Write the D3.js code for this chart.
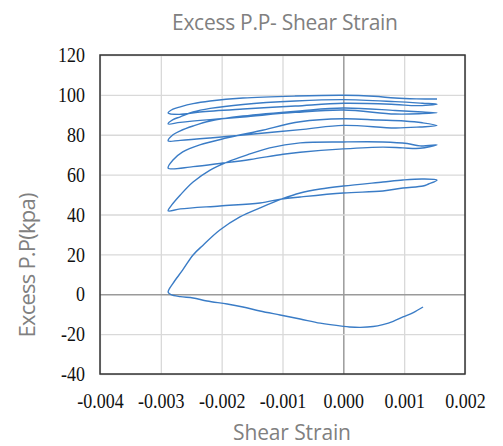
<!DOCTYPE html>
<html>
<head>
<meta charset="utf-8">
<script src="https://cdn.jsdelivr.net/npm/d3@7"></script>
<style>
  body { margin: 0; background: #fff; }
  .tick-label { font-family: "Liberation Serif", "Times New Roman", serif; font-size: 18px; fill: #111; }
  .axis-title { font-family: "Open Sans", "Noto Sans", sans-serif; fill: #808080; }
</style>
</head>
<body>
<svg id="chart" width="503" height="446"></svg>
<script>
// axis ticks
const strainTicks = [-0.004, -0.003, -0.002, -0.001, 0, 0.001, 0.002];
const ppTicks = [-40, -20, 0, 20, 40, 60, 80, 100, 120];

// [shear strain, excess pore pressure (kPa)], in test order
const branch0 = [[0.00131,-6.4],[0.00115,-9.2],[0.00098,-11.4],[0.00082,-13.6],[0.00065,-15.2],[0.00049,-16.2],[0.00028,-16.6],[0.0001,-16.4],[0.0,-16.1],[-0.00038,-14.5],[-0.00071,-12.4],[-0.00104,-10.4],[-0.00137,-8.4],[-0.00165,-6.4],[-0.00191,-4.9],[-0.00224,-3.4],[-0.00247,-1.9],[-0.00268,-1.2],[-0.00283,-0.2],[-0.00288,1.1]];
const branch1 = [[-0.00288,1.1],[-0.0028,5.5],[-0.00264,12.2],[-0.00247,19.7],[-0.00231,24.5],[-0.00203,32.2],[-0.0017,38.8],[-0.00137,43.3],[-0.00101,47.8],[-0.00071,50.8],[-0.00038,52.8],[0.0,54.3],[0.00065,56.3],[0.00098,57.3],[0.0013,57.8],[0.00154,57.3]];
const branch2 = [[0.00154,57.3],[0.0014,55.3],[0.00131,54.3],[0.00098,53.3],[0.00065,51.8],[0.0,50.8],[-0.00071,48.8],[-0.00101,47.8],[-0.00137,45.8],[-0.00203,44.3],[-0.00268,42.8],[-0.00288,41.8]];
const branch3 = [[-0.00288,41.8],[-0.00282,44.8],[-0.00268,49.8],[-0.00247,56.3],[-0.00219,62.3],[-0.00191,66.3],[-0.00158,69.9],[-0.00121,73.4],[-0.00071,75.9],[0.0,76.4],[0.00065,76.4],[0.00105,75.6],[0.00126,74.4],[0.00154,74.9]];
const branch4 = [[0.00154,74.9],[0.00126,73.2],[0.00098,73.4],[0.00065,73.8],[0.0,72.9],[-0.00071,71.2],[-0.00099,70.2],[-0.00153,67.6],[-0.00198,65.8],[-0.00247,64.0],[-0.00288,63.3]];
const branch5 = [[-0.00288,63.3],[-0.0028,67.3],[-0.00264,71.4],[-0.00236,74.9],[-0.00191,78.4],[-0.00137,82.0],[-0.00071,86.5],[0.0,88.0],[0.00057,87.4],[0.001,86.9],[0.0013,86.0],[0.00154,84.6]];
const branch6 = [[0.00154,84.6],[0.00126,83.9],[0.00085,83.4],[0.0,84.7],[-0.00066,82.7],[-0.00165,79.9],[-0.00219,78.4],[-0.00268,77.2],[-0.00288,76.9]];
const branch7 = [[-0.00288,76.9],[-0.0028,80.0],[-0.00268,82.0],[-0.00247,84.4],[-0.00219,86.9],[-0.00165,89.4],[-0.00071,92.0],[0.0,93.4],[0.00085,92.2],[0.0013,91.4],[0.00154,91.0]];
const branch8 = [[0.00154,91.0],[0.0013,90.6],[0.00085,90.4],[0.0,92.4],[-0.00079,91.2],[-0.00165,88.9],[-0.00219,87.6],[-0.00268,86.2],[-0.00288,85.4]];
const branch9 = [[-0.00288,85.4],[-0.0028,87.6],[-0.00268,89.0],[-0.00247,91.4],[-0.00219,93.2],[-0.00165,95.2],[-0.00079,96.9],[0.0,97.6],[0.00085,96.6],[0.0013,95.8],[0.00154,95.3]];
const branch10 = [[0.00154,95.3],[0.0012,94.6],[0.00085,95.2],[0.0,95.8],[-0.00079,94.4],[-0.00165,92.9],[-0.00236,91.4],[-0.0027,90.2],[-0.00288,90.9]];
const branch11 = [[-0.00288,90.9],[-0.0028,92.8],[-0.00268,94.0],[-0.00247,95.6],[-0.00219,96.9],[-0.00165,98.4],[-0.00079,99.4],[0.0,99.8],[0.0005,99.3],[0.00085,98.4],[0.0012,98.0],[0.00154,97.9]];

const branches = [branch0, branch1, branch2, branch3, branch4, branch5,
                  branch6, branch7, branch8, branch9, branch10, branch11];
// one continuous path, dropping the repeated joint points
const path = branches.flatMap((b, i) => i === 0 ? b : b.slice(1));

const plotLeft = 100, plotRight = 465, plotTop = 55, plotBottom = 374;

const x = d3.scaleLinear().domain([-0.004, 0.002]).range([plotLeft, plotRight]);
const y = d3.scaleLinear().domain([-40, 120]).range([plotBottom, plotTop]);

const svg = d3.select("#chart");

// grid
svg.append("g")
    .attr("transform", `translate(0, ${plotBottom})`)
    .call(d3.axisBottom(x).tickValues(strainTicks).tickSize(-(plotBottom - plotTop)).tickFormat(""))
    .call(g => g.select(".domain").remove())
    .call(g => g.selectAll("line")
        .attr("stroke", d => d === 0 ? "#8c8c8c" : "#d9d9d9")
        .attr("stroke-width", 1.3));

svg.append("g")
    .attr("transform", `translate(${plotLeft}, 0)`)
    .call(d3.axisLeft(y).tickValues(ppTicks).tickSize(-(plotRight - plotLeft)).tickFormat(""))
    .call(g => g.select(".domain").remove())
    .call(g => g.selectAll("line")
        .attr("stroke", d => d === 0 ? "#9a9a9a" : "#d9d9d9")
        .attr("stroke-width", 1.3));

// plot frame
svg.append("rect")
    .attr("x", plotLeft)
    .attr("y", plotTop)
    .attr("width", plotRight - plotLeft)
    .attr("height", plotBottom - plotTop)
    .attr("fill", "none")
    .attr("stroke", "#333")
    .attr("stroke-width", 1.5);

// curve
const line = d3.line()
    .x(d => x(d[0]))
    .y(d => y(d[1]))
    .curve(d3.curveCatmullRom.alpha(0.5));

svg.append("path")
    .datum(path)
    .attr("d", line)
    .attr("fill", "none")
    .attr("stroke", "#3a7cc6")
    .attr("stroke-width", 1.4)
    .attr("stroke-linejoin", "round");

// tick labels, slightly stretched vertically like the original
svg.append("g")
    .attr("transform", `translate(0, ${plotBottom})`)
    .call(d3.axisBottom(x).tickValues(strainTicks).tickSize(0)
        .tickFormat(d => d.toFixed(3)))
    .call(g => g.select(".domain").remove())
    .call(g => g.selectAll("text")
        .attr("class", "tick-label")
        .attr("y", 0)
        .attr("dy", 0)
        .attr("transform", "translate(0, 34) scale(1, 1.12)"));

svg.append("g")
    .attr("transform", `translate(${plotLeft}, 0)`)
    .call(d3.axisLeft(y).tickValues(ppTicks).tickSize(0)
        .tickFormat(d => String(d)))
    .call(g => g.select(".domain").remove())
    .call(g => g.selectAll("text")
        .attr("class", "tick-label")
        .attr("x", 0)
        .attr("dy", 0)
        .attr("transform", "translate(-15, 6.7) scale(1, 1.12)"));

// titles
svg.append("text")
    .attr("class", "axis-title")
    .attr("x", 285)
    .attr("y", 30)
    .attr("text-anchor", "middle")
    .attr("font-size", 21)
    .attr("textLength", 226)
    .text("Excess P.P- Shear Strain");

svg.append("text")
    .attr("class", "axis-title")
    .attr("x", 292)
    .attr("y", 440)
    .attr("text-anchor", "middle")
    .attr("font-size", 21)
    .attr("textLength", 118)
    .text("Shear Strain");

svg.append("text")
    .attr("class", "axis-title")
    .attr("transform", "translate(35, 265) rotate(-90)")
    .attr("text-anchor", "middle")
    .attr("font-size", 22)
    .attr("textLength", 145)
    .text("Excess P.P(kpa)");
</script>
</body>
</html>
